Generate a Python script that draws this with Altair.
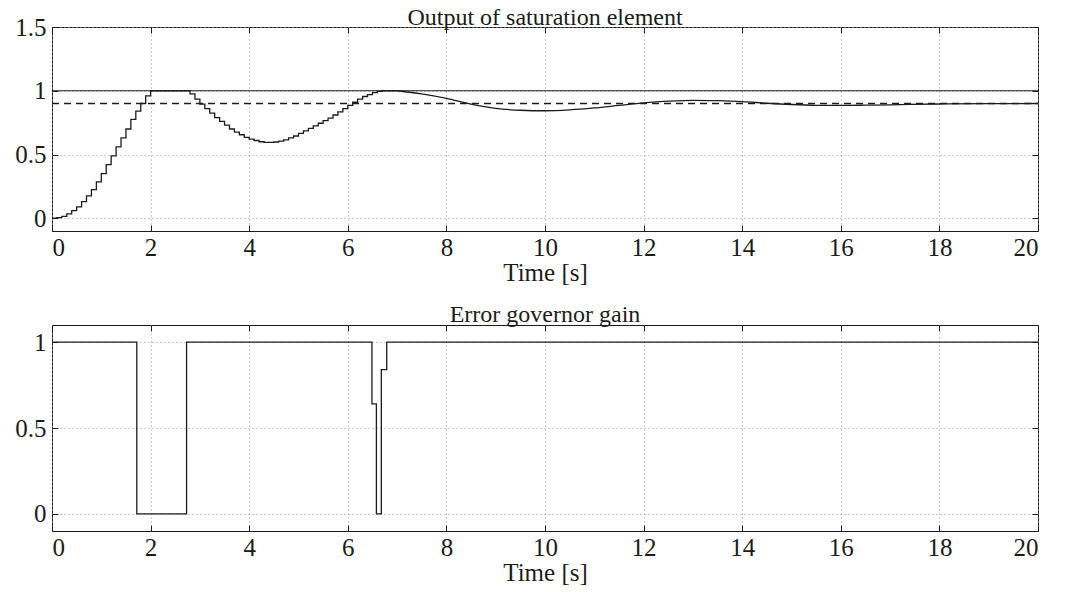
import altair as alt
import pandas as pd

FONT = "Liberation Serif"
INK = "#1c1c1c"
GRID = "#9a9a9a"
TICK_FS = 25
AXIS_TITLE_FS = 25
TITLE_FS = 24

W = 986          # plot width (both panels)
H_TOP = 204      # plot height, saturation panel
H_BOT = 206      # plot height, governor gain panel

# ---- Output of saturation element -------------------------------------
# zero-order-hold samples, one every SAMPLE_PERIOD seconds from t = 0
SAMPLE_PERIOD = 0.1
sat_stair_values = [
    0.0, 0.005, 0.015, 0.035, 0.06, 0.09, 0.13, 0.175, 0.225, 0.285,
    0.35, 0.42, 0.49, 0.56, 0.63, 0.70, 0.775, 0.84, 0.90, 0.96,
    1.0, 1.0, 1.0, 1.0, 1.0, 1.0, 1.0, 1.0, 0.975, 0.935,
    0.895, 0.86, 0.825, 0.79, 0.76, 0.73, 0.70, 0.675, 0.655, 0.635,
    0.62, 0.61, 0.60, 0.595, 0.595, 0.598, 0.605, 0.615, 0.63, 0.645,
    0.665, 0.685, 0.705, 0.725, 0.745, 0.765, 0.785, 0.81, 0.835, 0.86,
    0.885, 0.91, 0.935, 0.955, 0.97, 0.985, 0.995, 1.0, 1.0, 1.0, 1.0,
]
# slowly settling part of the response
sat_tail_t = [7.0, 7.5, 8.0, 8.5, 9.0, 9.5, 10.0, 10.5, 11.0, 11.5, 12.0, 12.5,
              13.0, 13.5, 14.0, 14.5, 15.0, 15.5, 16.0, 16.5, 17.0, 18.0, 19.0, 20.0]
sat_tail_v = [1.0, 0.975, 0.94, 0.895, 0.862, 0.847, 0.843, 0.85, 0.865, 0.885, 0.905, 0.918,
              0.925, 0.922, 0.915, 0.902, 0.892, 0.886, 0.885, 0.887, 0.89, 0.896, 0.899, 0.90]
saturation_limit = 1.0
reference_level = 0.9

# ---- Error governor gain ----------------------------------------------
gain_t = [0.0, 1.72, 2.73, 6.49, 6.58, 6.68, 6.79, 20.0]
gain_v = [1.0, 0.0, 1.0, 0.64, 0.0, 0.84, 1.0, 1.0]

x_ticks = [0, 2, 4, 6, 8, 10, 12, 14, 16, 18, 20]
x_domain = [0, 20]
top_y_ticks = [0, 0.5, 1, 1.5]
top_y_domain = [-0.1, 1.5]
bot_y_ticks = [0, 0.5, 1]
bot_y_domain = [-0.1, 1.1]

stair_df = pd.DataFrame({
    "t": [round(SAMPLE_PERIOD * k, 1) for k in range(len(sat_stair_values))],
    "v": sat_stair_values,
})
tail_df = pd.DataFrame({"t": sat_tail_t, "v": sat_tail_v})
limit_df = pd.DataFrame({"t": x_domain, "v": [saturation_limit] * 2})
ref_df = pd.DataFrame({"t": x_domain, "v": [reference_level] * 2})
gain_df = pd.DataFrame({"t": gain_t, "v": gain_v})

label_style = dict(labelFont=FONT, labelFontSize=TICK_FS, labelColor=INK,
                   titleFont=FONT, titleFontSize=AXIS_TITLE_FS, titleFontWeight="normal",
                   titleColor=INK, gridColor=GRID, gridDash=[1, 3], gridWidth=1)


def xscale():
    return alt.Scale(domain=x_domain, nice=False, zero=False)


def yscale(dom):
    return alt.Scale(domain=dom, nice=False, zero=False)


def main_axes(ydom, yticks):
    """Labelled axes with dotted grid (no outward ticks)."""
    x = alt.X("t:Q", scale=xscale(),
              axis=alt.Axis(values=x_ticks, title="Time [s]", grid=True, ticks=False,
                            domain=False, labelPadding=4, titlePadding=0, format="d",
                            **label_style))
    y = alt.Y("v:Q", scale=yscale(ydom),
              axis=alt.Axis(values=yticks, title=None, grid=True, ticks=False,
                            domain=False, labelPadding=6, format="~g", **label_style))
    return x, y


def inward_ticks(df, ydom, yticks, h, x_orient, y_orient):
    """Invisible layer carrying short tick marks pointing into the box."""
    ax = dict(labels=False, grid=False, domain=False, title=None, ticks=True,
              tickSize=6, tickColor=INK, tickWidth=1)
    return alt.Chart(df).mark_point(opacity=0).encode(
        x=alt.X("t:Q", scale=xscale(),
                axis=alt.Axis(orient=x_orient, offset=-h, values=x_ticks, **ax)),
        y=alt.Y("v:Q", scale=yscale(ydom),
                axis=alt.Axis(orient=y_orient, offset=-W, values=yticks, **ax)),
    )


# ---- top panel ---------------------------------------------------------
tx, ty = main_axes(top_y_domain, top_y_ticks)
limit_line = alt.Chart(limit_df).mark_line(color=INK, strokeWidth=1).encode(x=tx, y=ty)
ref_line = alt.Chart(ref_df).mark_line(color=INK, strokeWidth=1.3, strokeDash=[7, 5]).encode(
    x="t:Q", y="v:Q")
stair_line = alt.Chart(stair_df).mark_line(
    color=INK, strokeWidth=1.3, interpolate="step-after").encode(x="t:Q", y="v:Q")
tail_line = alt.Chart(tail_df).mark_line(
    color=INK, strokeWidth=1.3, interpolate="monotone").encode(x="t:Q", y="v:Q")

top = alt.layer(
    alt.layer(limit_line, ref_line, stair_line, tail_line),
    inward_ticks(limit_df, top_y_domain, top_y_ticks, H_TOP, "top", "right"),
    inward_ticks(limit_df, top_y_domain, top_y_ticks, H_TOP, "bottom", "left"),
).resolve_axis(x="independent", y="independent").properties(
    width=W, height=H_TOP,
    title=alt.TitleParams("Output of saturation element", offset=-14.5),
)

# ---- bottom panel ------------------------------------------------------
bx, by = main_axes(bot_y_domain, bot_y_ticks)
gain_line = alt.Chart(gain_df).mark_line(
    color=INK, strokeWidth=1.3, interpolate="step-after").encode(x=bx, y=by)

bottom = alt.layer(
    gain_line,
    inward_ticks(gain_df, bot_y_domain, bot_y_ticks, H_BOT, "top", "right"),
    inward_ticks(gain_df, bot_y_domain, bot_y_ticks, H_BOT, "bottom", "left"),
).resolve_axis(x="independent", y="independent").properties(
    width=W, height=H_BOT,
    title=alt.TitleParams("Error governor gain", offset=-2),
)

chart = alt.vconcat(top, bottom, spacing=16).properties(
    padding={"left": 14, "top": 5, "right": 5, "bottom": 0},
    background="white",
).configure_view(
    stroke=INK, strokeWidth=1
).configure_title(
    font=FONT, fontSize=TITLE_FS, fontWeight="normal", color=INK, anchor="middle",
)

chart.save("out.html", embed_options={"renderer": "svg", "actions": False})
